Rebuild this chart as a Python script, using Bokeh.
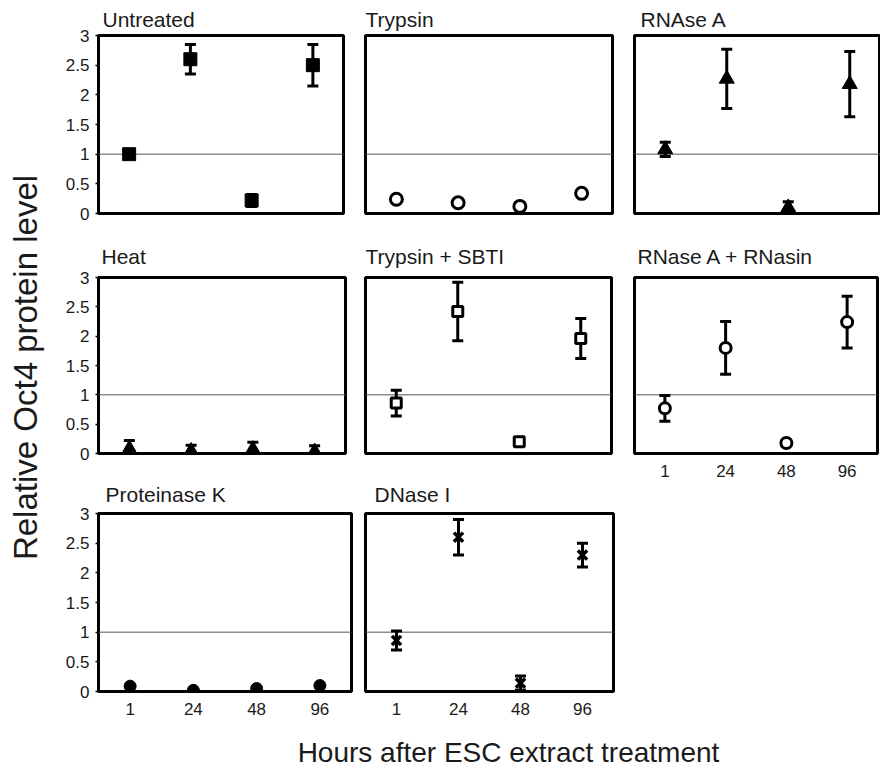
from bokeh.plotting import figure
from bokeh.models import (Range1d, FactorRange, Span, Whisker, TeeHead, ColumnDataSource,
                          Title, FixedTicker, NumeralTickFormatter)
from bokeh.layouts import column, row
from bokeh.embed import file_html
from bokeh.resources import INLINE

# ---------------- data ----------------
hours = ["1", "24", "48", "96"]
y_ticks = [0, 0.5, 1, 1.5, 2, 2.5, 3]

untreated = [1.0, 2.6, 0.22, 2.5]
untreated_err = [0, 0.25, 0.1, 0.35]

trypsin = [0.24, 0.18, 0.12, 0.34]
trypsin_err = [0, 0, 0, 0]

rnase_a = [1.08, 2.27, 0.1, 2.18]
rnase_a_err = [0.12, 0.5, 0.1, 0.55]

heat = [0.1, 0.06, 0.09, 0.05]
heat_err = [0.12, 0.08, 0.1, 0.08]

trypsin_sbti = [0.86, 2.42, 0.2, 1.96]
trypsin_sbti_err = [0.22, 0.5, 0.05, 0.34]

rnase_rnasin = [0.77, 1.8, 0.18, 2.24]
rnase_rnasin_err = [0.22, 0.45, 0, 0.44]

proteinase_k = [0.09, 0.02, 0.05, 0.1]
proteinase_k_err = [0, 0, 0, 0]

dnase_i = [0.86, 2.6, 0.14, 2.3]
dnase_i_err = [0.16, 0.3, 0.12, 0.2]

titles = ["Untreated", "Trypsin", "RNAse A", "Heat", "Trypsin + SBTI",
          "RNase A + RNasin", "Proteinase K", "DNase I"]
y_label = "Relative Oct4 protein level"
x_label = "Hours after ESC extract treatment"

FONT = "Liberation Sans"
TXT = "#1a1a1a"

# marker style per panel: (marker, size, filled)
styles = [("square", 13, True), ("circle", 12, False), ("triangle", 15, True),
          ("triangle", 13, True), ("square", 10, False), ("circle", 11, False),
          ("circle", 12, True), ("x", 13, False)]
series = [(untreated, untreated_err), (trypsin, trypsin_err), (rnase_a, rnase_a_err),
          (heat, heat_err), (trypsin_sbti, trypsin_sbti_err), (rnase_rnasin, rnase_rnasin_err),
          (proteinase_k, proteinase_k_err), (dnase_i, dnase_i_err)]

# horizontal geometry per panel: (left border, frame width, right border)
hgeo = [(50, 245, 10), (11, 247, 10), (10, 246, 3),
        (47, 247, 11), (12, 246, 10), (13, 243, 3),
        (42, 253, 10), (10, 248, 10)]
# vertical geometry per panel: (top border, frame height, bottom border)
vgeo = [(35, 178, 18), (35, 178, 18), (35, 178, 18),
        (46, 176, 19), (46, 176, 19), (46, 176, 31),
        (41, 178, 31), (41, 178, 31)]
title_offsets = [4, 0, 6, 3, 0, 3, 7, 9]
title_standoff = [10, 10, 10, 20, 20, 20, 16, 16]
xlabel_panels = {5, 6, 7}


def make_panel(i):
    c = i % 3
    lb, fw, rb = hgeo[i]
    tb, fh, bb = vgeo[i]
    show_x = i in xlabel_panels
    p = figure(x_range=FactorRange(*hours, range_padding=0), y_range=Range1d(0, 3),
               frame_width=fw, frame_height=fh,
               min_border_left=lb, min_border_right=rb, min_border_top=tb, min_border_bottom=bb,
               toolbar_location=None, output_backend="svg",
               x_axis_location="below" if show_x else None,
               y_axis_location="left" if c == 0 else None,
               background_fill_color="white", border_fill_color="white")
    p.xgrid.visible = False
    p.ygrid.visible = False
    p.outline_line_color = "black"
    p.outline_line_width = 3
    p.outline_line_alpha = 1

    t = Title(text=titles[i], align="left", offset=title_offsets[i],
              standoff=title_standoff[i], text_font=FONT, text_font_size="21px",
              text_font_style="normal", text_color=TXT)
    p.add_layout(t, "above")

    if c == 0:
        ya = p.yaxis[0]
        ya.ticker = FixedTicker(ticks=y_ticks)
        ya.formatter = NumeralTickFormatter(format="0.[0]")
        ya.axis_line_color = None
        ya.major_tick_in = 0
        ya.major_tick_out = 3
        ya.minor_tick_line_color = None
        ya.major_label_text_font = FONT
        ya.major_label_text_font_size = "17px"
        ya.major_label_text_color = TXT
        ya.major_label_standoff = 6
        ya.major_tick_line_color = "black"
        ya.major_tick_line_width = 1.5

    if show_x:
        xa = p.xaxis[0]
        xa.axis_line_color = None
        xa.major_tick_line_color = None
        xa.major_tick_in = 0
        xa.major_tick_out = 0
        xa.minor_tick_line_color = None
        xa.major_label_text_font = FONT
        xa.major_label_text_font_size = "17px"
        xa.major_label_text_color = TXT
        xa.major_label_standoff = 11

    p.add_layout(Span(location=1, dimension="width", line_color="#555555",
                      line_width=1, level="underlay"))

    vals, errs = series[i]
    wx = [h for h, e in zip(hours, errs) if e > 0]
    wv = [v for v, e in zip(vals, errs) if e > 0]
    we = [e for e in errs if e > 0]
    if wx:
        wsrc = ColumnDataSource(dict(x=wx, upper=[v + e for v, e in zip(wv, we)],
                                     lower=[v - e for v, e in zip(wv, we)]))
        p.add_layout(Whisker(base="x", upper="upper", lower="lower", source=wsrc,
                             line_color="black", line_width=3, level="underlay",
                             upper_head=TeeHead(size=11, line_width=3, line_color="black"),
                             lower_head=TeeHead(size=11, line_width=3, line_color="black")))

    marker, size, filled = styles[i]
    src = ColumnDataSource(dict(x=hours, y=vals))
    if marker == "x":
        p.scatter("x", "y", source=src, marker="x", size=size, line_color="black",
                  line_width=3.5)
    else:
        p.scatter("x", "y", source=src, marker=marker, size=size,
                  fill_color="black" if filled else "white",
                  line_color="black", line_width=1 if filled else 3)
    return p


panels = [make_panel(i) for i in range(8)]
col1 = column(panels[0], panels[3], panels[6], spacing=0)
col2 = column(panels[1], panels[4], panels[7], spacing=0)
col3 = column(panels[2], panels[5], spacing=0)
grid = row(col1, col2, col3, spacing=0)

xlab = figure(width=832, height=46, toolbar_location=None, output_backend="svg",
              x_axis_location=None, y_axis_location=None, outline_line_color=None,
              min_border_left=88, min_border_right=0, min_border_top=45, min_border_bottom=0)
xlab.xgrid.visible = False
xlab.ygrid.visible = False
xlab.add_layout(Title(text=x_label, align="center", text_font=FONT, text_font_size="28px",
                      text_font_style="normal", text_color=TXT, standoff=0), "above")

ylab = figure(width=48, height=768, toolbar_location=None, output_backend="svg",
              x_axis_location=None, y_axis_location=None, outline_line_color=None,
              min_border_left=44, min_border_right=0, min_border_top=0, min_border_bottom=34)
ylab.xgrid.visible = False
ylab.ygrid.visible = False
ylab.add_layout(Title(text=y_label, align="center", text_font=FONT, text_font_size="33px",
                      text_font_style="normal", text_color=TXT, standoff=1), "left")

layout = row(ylab, column(grid, xlab, spacing=0), spacing=0)

open("out.html", "w").write(file_html(layout, INLINE))
